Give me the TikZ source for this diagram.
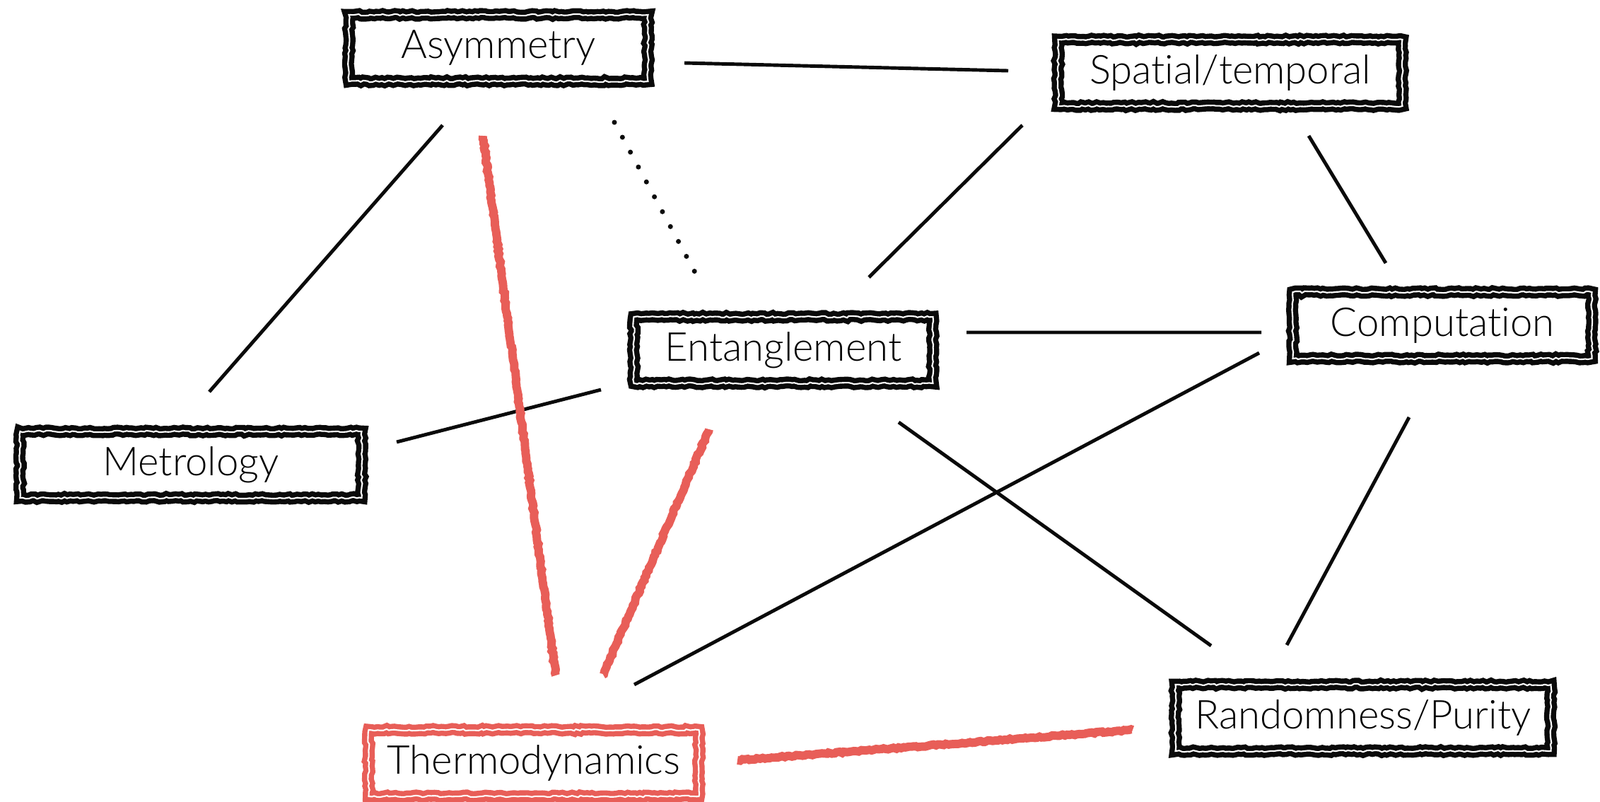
\documentclass[tikz,border=0pt]{standalone}
\usepackage{fontspec}
\setmainfont{Lato}[UprightFont=* Light, Ligatures=NoCommon]
\usetikzlibrary{calc,decorations.pathmorphing}
\definecolor{thermred}{HTML}{E85E58}
\definecolor{inkblack}{HTML}{0A0A0A}

\begin{document}
\begin{tikzpicture}[
        topic/.style={draw=inkblack, line width=2.1pt, double=white, double distance=0.6pt,
          decorate, decoration={random steps, segment length=1.2pt, amplitude=0.35pt},
          minimum height=0.94cm, inner sep=0pt, font=\fontsize{16}{19}\selectfont},
        hot/.style={topic, draw=thermred},
        link/.style={draw=inkblack, line width=1.4pt},
        hotlink/.style={draw=thermred, line width=3.4pt,
          decorate, decoration={random steps, segment length=1pt, amplitude=0.3pt}},
        weak/.style={draw=inkblack, line width=2pt, line cap=round, dash pattern=on 0pt off 6.8pt},
      ]
      \useasboundingbox (0,0) rectangle (22.63,-11.33);

      % Topic boxes
      \node[topic, minimum width=4.23cm] (asym)   at (7.05,-0.68)  {Asymmetry};
      \node[topic, minimum width=4.87cm] (spat)   at (17.40,-1.03) {Spatial/temporal};
      \node[topic, minimum width=4.23cm] (ent)    at (11.08,-4.95) {Entanglement};
      \node[topic, minimum width=4.23cm] (comp)   at (20.40,-4.60) {Computation};
      \node[topic, minimum width=4.83cm] (metr)   at (2.70,-6.57)  {Metrology};
      \node[hot,   minimum width=4.67cm] (thermo) at (7.55,-10.79) {Thermodynamics};
      \node[topic, minimum width=5.31cm] (rand)   at (19.28,-10.15) {Randomness/Purity};

      % Plain links
      \draw[link] ($(asym)+(2.63,-0.21)$) -- ($(spat)+(-3.14,0.03)$);
      \draw[link] ($(asym)+(-0.79,-1.09)$) -- ($(metr)+(0.26,1.03)$);
      \draw[link] ($(spat)+(-2.94,-0.74)$) -- ($(ent)+(1.21,1.03)$);
      \draw[link] ($(spat)+(1.11,-0.89)$) -- ($(comp)+(-0.80,0.88)$);
      \draw[link] ($(ent)+(2.59,0.25)$) -- ($(comp)+(-2.56,-0.10)$);
      \draw[link] ($(ent)+(-2.58,-0.56)$) -- ($(metr)+(2.91,0.32)$);
      \draw[link] ($(ent)+(1.63,-1.02)$) -- ($(rand)+(-2.15,1.02)$);
      \draw[link] ($(comp)+(-2.59,-0.39)$) -- ($(thermo)+(1.42,1.11)$);
      \draw[link] ($(comp)+(-0.47,-1.30)$) -- ($(rand)+(-1.08,1.03)$);

      % Dotted link
      \draw[weak] ($(asym)+(1.64,-1.05)$) -- ($(ent)+(-1.25,1.10)$);

      % Thermodynamics links
      \draw[hotlink] ($(asym)+(-0.22,-1.24)$) -- ($(thermo)+(0.31,1.24)$);
      \draw[hotlink] ($(ent)+(-1.05,-1.12)$) -- ($(thermo)+(0.98,1.25)$);
      \draw[hotlink] ($(thermo)+(2.88,0.04)$) -- ($(rand)+(-3.26,-0.17)$);
    \end{tikzpicture}
\end{document}
